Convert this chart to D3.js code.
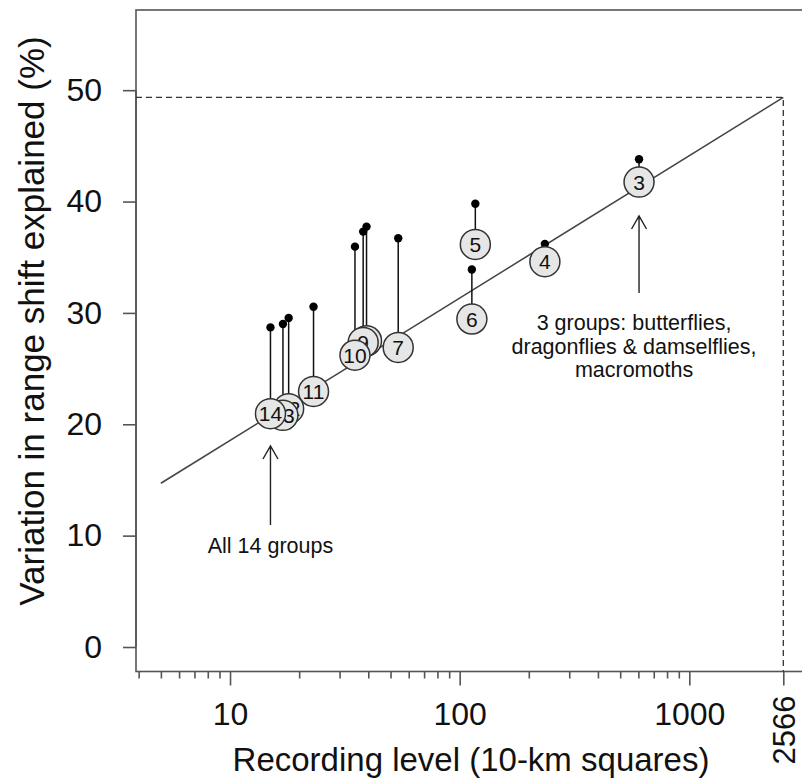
<!DOCTYPE html>
<html>
<head>
<meta charset="utf-8">
<script src="https://cdn.jsdelivr.net/npm/d3@7"></script>
<style>
  html, body { margin: 0; padding: 0; background: #fff; }
  svg { display: block; }
  text { font-family: "Liberation Sans", Arial, Helvetica, sans-serif; fill: #111; }
</style>
</head>
<body>
<svg id="chart" width="802" height="782"></svg>
<script>
// Taxonomic groups, their recording level (number of 10-km squares),
// the fitted % of range-shift variation explained, and the observed value.
const groupLabels    = ["3", "4", "5", "6", "7", "8", "9", "10", "11", "12", "13", "14"];
const recordingLevel = [604, 235, 117, 113, 54, 39.3, 38, 35, 23.1, 18, 17, 15];
const fittedShift    = [41.75, 34.6, 36.15, 29.45, 26.9, 27.5, 27.35, 26.2, 22.95, 21.4, 20.8, 20.95];
const observedShift  = [43.8, 36.2, 39.8, 33.9, 36.7, 37.75, 37.3, 35.95, 30.55, 29.55, 29.0, 28.7];

// Fitted relationship, from the lowest plotted level to the full 2566 squares
const fitLevels = [5, 2566];
const fitShift  = [14.7, 49.35];

// Axis ticks
const yTicks       = [0, 10, 20, 30, 40, 50];
const xMajorTicks  = [10, 100, 1000];
const xMinorTicks  = [4, 5, 6, 7, 8, 9, 20, 30, 40, 50, 60, 70, 80, 90,
                      200, 300, 400, 500, 600, 700, 800, 900];
const fullCoverage = 2566;

// Annotations
const noteAll   = { level: 15,  lines: ["All 14 groups"] };
const noteThree = { level: 604, lines: ["3 groups: butterflies,", "dragonflies & damselflies,", "macromoths"] };

const svg = d3.select("#chart");
const plot = { left: 136, top: 10, bottom: 671.5 };

// R-style axis limits: data range padded by 4% on each side
const xLim = [5, 2566], yLim = [0, 55];
const lx = xLim.map(Math.log10), pad = 0.04 * (lx[1] - lx[0]);
const xDom = [Math.pow(10, lx[0] - pad), Math.pow(10, lx[1] + pad)];
const yPad = 0.04 * (yLim[1] - yLim[0]);
const x = d3.scaleLog().domain(xDom).range([plot.left, 808.2]);
const y = d3.scaleLinear().domain([yLim[0] - yPad, yLim[1] + yPad]).range([plot.bottom, plot.top]);

const ink = "#333";
const axisInk = "#555";

// Plot frame
svg.append("rect")
  .attr("x", x(xDom[0])).attr("y", y(yLim[1] + yPad))
  .attr("width", x(xDom[1]) - x(xDom[0]))
  .attr("height", y(yLim[0] - yPad) - y(yLim[1] + yPad))
  .attr("fill", "none").attr("stroke", axisInk).attr("stroke-width", 1.6);

// Y axis
const yAxis = d3.axisLeft(y).tickValues(yTicks).tickSize(13).tickPadding(21).tickFormat(d3.format("d"));
const gy = svg.append("g").attr("transform", `translate(${plot.left},0)`).call(yAxis);
gy.select(".domain").attr("d", `M0,${y(yTicks[0])}V${y(yTicks[yTicks.length - 1])}`)
  .attr("stroke", axisInk).attr("stroke-width", 1.6);
gy.selectAll(".tick line").attr("stroke", axisInk).attr("stroke-width", 1.6);
gy.selectAll(".tick text").attr("font-size", 32).attr("fill", "#111")
  .attr("font-family", "Liberation Sans, Arial, sans-serif");

// X axis: major ticks with labels, minor ticks without
const gxMinor = svg.append("g").attr("transform", `translate(0,${plot.bottom})`)
  .call(d3.axisBottom(x).tickValues(xMinorTicks).tickSize(7).tickFormat(""));
gxMinor.select(".domain").remove();
gxMinor.selectAll(".tick line").attr("stroke", axisInk).attr("stroke-width", 1.6);

const gx = svg.append("g").attr("transform", `translate(0,${plot.bottom})`)
  .call(d3.axisBottom(x).tickValues(xMajorTicks.concat([fullCoverage])).tickSize(14).tickPadding(17).tickFormat(d3.format("d")));
gx.select(".domain").remove();
gx.selectAll(".tick line").attr("stroke", axisInk).attr("stroke-width", 1.6);
gx.selectAll(".tick text").attr("font-size", 32).attr("fill", "#111")
  .attr("font-family", "Liberation Sans, Arial, sans-serif");
// the full-coverage label runs vertically
gx.selectAll(".tick").filter(d => d === fullCoverage).select("text")
  .attr("transform", "rotate(-90)")
  .attr("x", -24).attr("y", 0).attr("dy", "0.35em")
  .attr("font-size", 31)
  .attr("text-anchor", "end");

// Axis titles
svg.append("text")
  .attr("x", 471).attr("y", 771)
  .attr("text-anchor", "middle").attr("font-size", 33)
  .text("Recording level (10-km squares)");
svg.append("text")
  .attr("transform", `translate(44,321) rotate(-90)`)
  .attr("text-anchor", "middle").attr("font-size", 35)
  .text("Variation in range shift explained (%)");

// Dashed guides to the full-coverage value
const topFit = fitShift[1];
svg.append("path")
  .attr("d", `M${plot.left},${y(topFit)}H${x(fullCoverage)}V${plot.bottom}`)
  .attr("fill", "none").attr("stroke", ink).attr("stroke-width", 1.3)
  .attr("stroke-dasharray", "6,4");

// Fitted line
const line = d3.line().x(d => x(d[0])).y(d => y(d[1]));
svg.append("path")
  .datum(d3.zip(fitLevels, fitShift))
  .attr("d", line)
  .attr("fill", "none").attr("stroke", "#444").attr("stroke-width", 1.6);

// Groups: stem from fitted circle to observed point, then the circle and label
const groups = groupLabels.map((g, i) => ({
  label: g, level: recordingLevel[i], fit: fittedShift[i], obs: observedShift[i]
}));

const gg = svg.append("g");
groups.forEach(d => {
  const cx = x(d.level);
  const node = gg.append("g");
  node.append("line")
    .attr("x1", cx).attr("x2", cx).attr("y1", y(d.obs)).attr("y2", y(d.fit))
    .attr("stroke", "#111").attr("stroke-width", 1.5);
  node.append("circle")
    .attr("cx", cx).attr("cy", y(d.obs)).attr("r", 4.2).attr("fill", "#000");
});
groups.forEach(d => {
  const cx = x(d.level);
  gg.append("circle")
    .attr("cx", cx).attr("cy", y(d.fit)).attr("r", 15)
    .attr("fill", "#e6e6e6").attr("stroke", ink).attr("stroke-width", 1.5);
  gg.append("text")
    .attr("x", cx).attr("y", y(d.fit)).attr("dy", "0.36em")
    .attr("text-anchor", "middle").attr("font-size", 21)
    .text(d.label);
});

// Annotation arrows (open arrowheads) and text
function arrow(xv, y0, y1) {
  const px = x(xv);
  svg.append("path")
    .attr("d", `M${px},${y0}V${y1}M${px - 7.5},${y1 + 13}L${px},${y1}L${px + 7.5},${y1 + 13}`)
    .attr("fill", "none").attr("stroke", "#222").attr("stroke-width", 1.4);
}
arrow(noteAll.level, 525, 446);
svg.append("text")
  .attr("x", x(noteAll.level)).attr("y", 553)
  .attr("text-anchor", "middle").attr("font-size", 21.5)
  .text(noteAll.lines[0]);

arrow(noteThree.level, 293, 216);
noteThree.lines.forEach((t, i) => {
  svg.append("text")
    .attr("x", x(noteThree.level) - 5).attr("y", 330 + i * 23.5)
    .attr("text-anchor", "middle").attr("font-size", 21.5)
    .text(t);
});
</script>
</body>
</html>
